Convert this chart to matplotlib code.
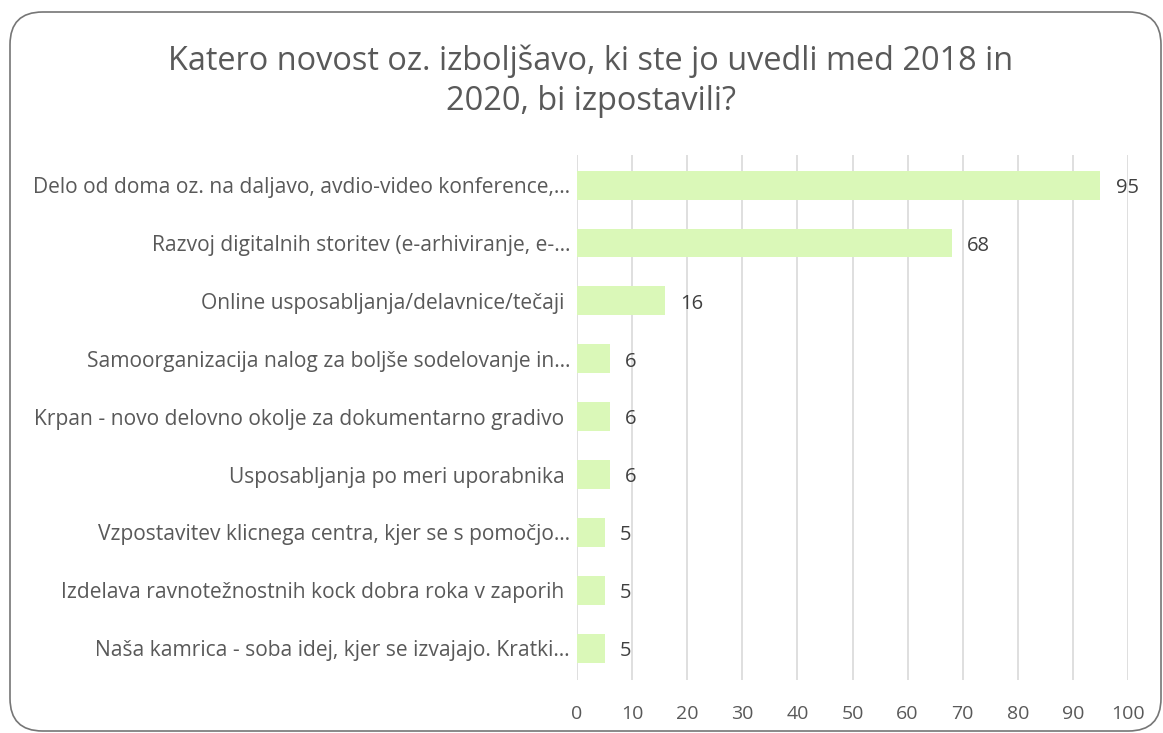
import matplotlib.pyplot as plt
from matplotlib.patches import FancyBboxPatch

plt.rcParams['font.family'] = ['Open Sans', 'DejaVu Sans']

# Data (some labels carry a trailing space, as in the source)
kategorije = [
    "Delo od doma oz. na daljavo, avdio-video konference,…",
    "Razvoj digitalnih storitev (e-arhiviranje, e-…",
    "Online usposabljanja/delavnice/tečaji ",
    "Samoorganizacija nalog za boljše sodelovanje in…",
    "Krpan - novo delovno okolje za dokumentarno gradivo ",
    "Usposabljanja po meri uporabnika ",
    "Vzpostavitev klicnega centra, kjer se s pomočjo…",
    "Izdelava ravnotežnostnih kock dobra roka v zaporih ",
    "Naša kamrica - soba idej, kjer se izvajajo. Kratki…",
]
vrednosti = [95, 68, 16, 6, 6, 6, 5, 5, 5]
x_ticks = [0, 10, 20, 30, 40, 50, 60, 70, 80, 90, 100]
naslov = "Katero novost oz. izboljšavo, ki ste jo uvedli med 2018 in\n2020, bi izpostavili?"

W, H = 1163, 733
fig = plt.figure(figsize=(W / 100, H / 100), dpi=100)

# rounded chart frame (pixel box 10..1161 x 12..731)
okvir = FancyBboxPatch((10 / W, 2 / H), 1151 / W, 719 / H,
                       boxstyle="round,pad=0,rounding_size=0.028",
                       transform=fig.transFigure, facecolor='none',
                       edgecolor='#767676', linewidth=1.2,
                       mutation_aspect=W / H, zorder=-1)
fig.patches.append(okvir)

ax = fig.add_axes([577 / W, 1 - 680 / H, (1128 - 577) / W, (680 - 155) / H])
ax.set_facecolor('none')
y = list(range(len(kategorije)))
ax.barh(y, vrednosti, height=0.5, color='#DAF8B8', zorder=2)
for yi, v in zip(y, vrednosti):
    ax.annotate(str(v), (v, yi), xytext=(11, -2), textcoords='offset points',
                va='center', ha='left', fontsize=14.5, color='#404040', zorder=3)

ax.set_xlim(0, 100)
ax.set_ylim(8.55, -0.52)
ax.set_xticks(x_ticks)
ax.set_yticks(y)
ax.set_yticklabels(kategorije)
ax.grid(axis='x', color='#D9D9D9', linewidth=1.2, zorder=0)
ax.tick_params(axis='both', length=0, colors='#595959')
ax.tick_params(axis='x', pad=18, labelsize=14)
ax.tick_params(axis='y', pad=5, labelsize=15.1)
for s in ax.spines.values():
    s.set_visible(False)

fig.text(591 / W, 1 - 81 / H, naslov, ha='center', va='center', fontsize=23.4,
         color='#595959', linespacing=1.3)

fig.savefig('out.png', dpi=100)
